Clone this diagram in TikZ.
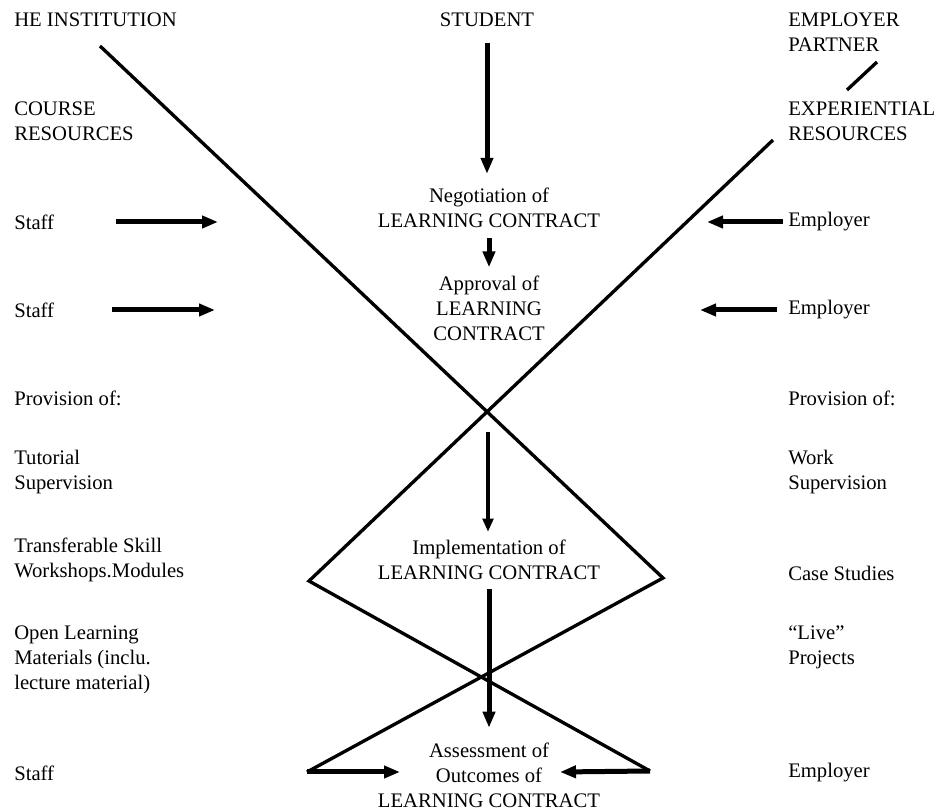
\documentclass[tikz,border=0pt]{standalone}
\usepackage{fontspec}
\setmainfont{Liberation Serif}
\usetikzlibrary{arrows.meta}

\begin{document}
\begin{tikzpicture}[x=0.75pt, y=-0.75pt,
    lbl/.style={inner sep=0pt, align=left, anchor=west, font=\fontsize{15.5}{18.75}\selectfont},
    mid/.style={inner sep=0pt, align=center, font=\fontsize{15.5}{18.75}\selectfont},
    vline/.style={line width=2.5pt},
    bigarrow/.style={line width=3.75pt, -{Triangle[length=12pt, width=9pt]}},
    thinarrow/.style={line width=2.6pt, -{Triangle[length=10pt, width=8pt]}}]

    \useasboundingbox (0,0) rectangle (940,812);

    % Left column (HE institution side)
    \foreach \nm/\yy/\txt in {heinst/20/HE INSTITUTION, course/121/COURSE\\RESOURCES, staffA/222/Staff, staffB/310/Staff, provL/398/Provision of:, tutor/472/Tutorial\\Supervision, transf/560/Transferable Skill\\Workshops.Modules, openl/660/Open Learning\\Materials (inclu.\\lecture material), staffC/773/Staff} {
        \node[lbl] (\nm) at (14,\yy) {\txt};
    }

    % Right column (employer side)
    \foreach \nm/\yy/\txt in {partner/32/EMPLOYER\\PARTNER, exper/121/EXPERIENTIAL\\RESOURCES, empA/222/Employer, empB/310/Employer, provR/398/Provision of:, work/472/Work\\Supervision, cases/573/Case Studies, live/647/``Live''\\Projects, empC/773/Employer} {
        \node[lbl] (\nm) at (788,\yy) {\txt};
    }

    % Middle column (student and contract stages)
    \node[mid] (student) at (487,20) {STUDENT};
    \node[mid] (nego) at (489,208) {Negotiation of\\LEARNING CONTRACT};
    \node[mid] (approv) at (489,308) {Approval of\\LEARNING\\CONTRACT};
    \node[mid] (implem) at (489,560) {Implementation of\\LEARNING CONTRACT};
    \node[mid] (assess) at (489,775) {Assessment of\\Outcomes of\\LEARNING CONTRACT};

    % Corners of the crossing lines
    \coordinate (heTop) at (100,46);
    \coordinate (vR) at (663,578);
    \coordinate (expBot) at (773,140);
    \coordinate (vL) at (309,581);
    \coordinate (botL) at (307,772);
    \coordinate (botR) at (650,771);
    \coordinate (cross1) at (488,412);
    \coordinate (ptA) at (877,62);
    \coordinate (ptB) at (847,90);

    % Free ends of the side arrows
    \coordinate (tipSA) at (218,222);
    \coordinate (tipSB) at (215,310);
    \coordinate (tipEA) at (707,222);
    \coordinate (tipEB) at (700,310);
    \coordinate (tipAL) at (400,772);
    \coordinate (tipAR) at (560,772);

    % Crossing lines
    \draw[vline] (heTop) -- (vR) -- (botL);
    \draw[vline] (expBot) -- (vL) -- (botR);
    \draw[vline] (ptA) -- (ptB);

    % Arrows down the middle
    \draw[bigarrow, shorten <=12pt, shorten >=10.5pt] (student.south) -- (student.south |- nego.north);
    \draw[bigarrow, shorten <=7.5pt, shorten >=6pt] (nego.south) -- (nego.south |- approv.north);
    \draw[thinarrow, shorten <=15pt, shorten >=6pt] (cross1) -- (cross1 |- implem.north);
    \draw[bigarrow, shorten <=6.75pt, shorten >=11pt] (implem.south) -- (implem.south |- assess.north);

    % Arrows from the sides
    \draw[bigarrow, shorten <=46pt] (staffA.east) -- (tipSA);
    \draw[bigarrow, shorten <=43pt] (staffB.east) -- (tipSB);
    \draw[bigarrow, shorten <=4pt] (empA.west) -- (tipEA);
    \draw[bigarrow, shorten <=8pt] (empB.west) -- (tipEB);
    \draw[bigarrow] (botL) -- (tipAL);
    \draw[bigarrow] (botR) -- (tipAR);

\end{tikzpicture}
\end{document}
